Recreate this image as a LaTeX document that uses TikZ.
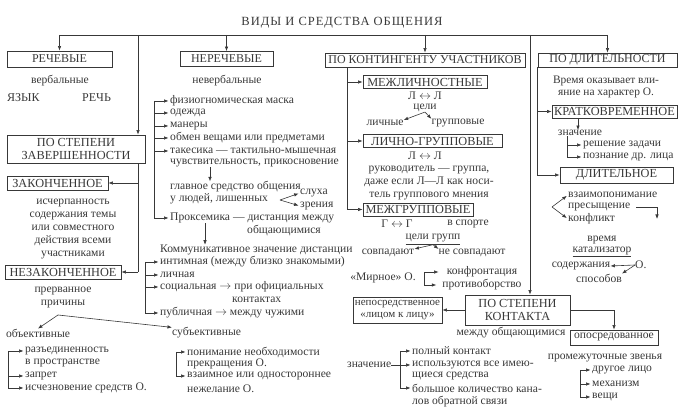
\documentclass[tikz,border=0pt]{standalone}
\usepackage{fontspec}
\setmainfont{Liberation Serif}
\usetikzlibrary{arrows.meta}
\definecolor{ink}{gray}{0.22}
\tikzset{
  txt/.style={inner sep=0pt, text=ink, font=\fontsize{11.6}{13}\selectfont},
  lt/.style={txt, anchor=west},
  box/.style={draw=ink, line width=0.9pt, inner sep=1pt, text=ink, font=\fontsize{12}{13}\selectfont},
  bigbox/.style={box, align=center, font=\fontsize{12.3}{13.5}\selectfont},
  ln/.style={draw=ink, line width=0.6pt},
  arr/.style={ln, -{Latex[length=4.5pt,width=3.5pt]}},
  larr/.style={arr, shorten >=1.5pt}
}
\begin{document}
\begin{tikzpicture}[x=1pt,y=-1pt]
    \useasboundingbox (0,0) rectangle (689,419);
    \node[txt, font=\fontsize{12.5}{14}\selectfont\addfontfeature{LetterSpace=8}] (title) at (342,23) {ВИДЫ И СРЕДСТВА ОБЩЕНИЯ};
    \coordinate (bar) at (0,35);
    \coordinate (zx) at (138,35);
    \coordinate (kx) at (530,35);

    \node[box, minimum width=105pt, minimum height=16pt] (rech) at (59.5,59) {РЕЧЕВЫЕ};
    \node[box, minimum width=93pt, minimum height=15pt] (nerech) at (226.5,59) {НЕРЕЧЕВЫЕ};
    \node[box, minimum width=200pt, minimum height=14pt] (kont) at (425,60) {ПО КОНТИНГЕНТУ УЧАСТНИКОВ};
    \node[box, minimum width=139pt, minimum height=14pt] (dlit) at (607.5,60) {ПО ДЛИТЕЛЬНОСТИ};
    \node[bigbox, minimum width=138pt, minimum height=28pt] (zav) at (76,149) {ПО СТЕПЕНИ\\ЗАВЕРШЕННОСТИ};
    \node[bigbox, minimum width=105pt, minimum height=30pt] (kontakt) at (517.5,310) {ПО СТЕПЕНИ\\КОНТАКТА};

    \draw[ln] (bar -| rech.north) -- (bar -| dlit.north);
    \draw[arr] (bar -| rech.north) -- (rech.north);
    \draw[arr] (bar -| nerech.north) -- (nerech.north);
    \draw[arr] (bar -| kont.north) -- (kont.north);
    \draw[arr] (bar -| dlit.north) -- (dlit.north);
    \draw[arr] (zx) -- (zx |- zav.north);
    \draw[arr] (kx) -- (kx |- kontakt.north);

    \node[txt] (verb) at (60,81) {вербальные};
    \node[lt, font=\fontsize{12}{13}\selectfont] (yaz) at (7,98) {ЯЗЫК};
    \node[lt, font=\fontsize{12}{13}\selectfont] (rch) at (82,98) {РЕЧЬ};

    \node[bigbox, minimum width=101pt, minimum height=14pt] (zak) at (57.5,183) {ЗАКОНЧЕННОЕ};
    \node[txt, align=center] (isch) at (73,229) {исчерпанность\\содержания темы\\или совместного\\действия всеми\\участниками};
    \node[bigbox, minimum width=116pt, minimum height=14pt] (nezak) at (63,272) {НЕЗАКОНЧЕННОЕ};
    \coordinate (zl) at (138,272);
    \draw[ln] (zav.south -| zl) -- (zl);
    \draw[arr] (zl |- zak.east) -- (zak.east);
    \draw[arr] (zl) -- (nezak.east);
    \node[txt, align=center] (prer) at (63,297.5) {прерванное\\причины};
    \coordinate (pr) at (58,315);
    \node[txt] (obj) at (38,333) {объективные};
    \node[lt] (subj) at (172,333) {субъективные};
    \draw[arr] (pr) -- (obj.north);
    \draw[arr] (pr) -- (subj.north west);

    \coordinate (ob) at (8,0);
    \node[lt] (o1) at (25,351) {разъединенность};
    \node[lt] (o1b) at (25,363) {в пространстве};
    \node[lt] (o2) at (25,376) {запрет};
    \node[lt] (o3) at (25,388) {исчезновение средств О.};
    \draw[larr] (ob |- o1.west) -- (o1.west);
    \draw[larr] (ob |- o1.west) |- (o3.west);
    \draw[larr] (ob |- o2.west) -- (o2.west);
    \coordinate (sb) at (176,0);
    \node[lt] (s1) at (187,352) {понимание необходимости};
    \node[lt] (s1b) at (187,364) {прекращения О.};
    \node[lt] (s2) at (187,376) {взаимное или одностороннее};
    \node[lt] (s2b) at (187,389) {нежелание О.};
    \draw[larr] (sb |- s1.west) -- (s1.west);
    \draw[larr] (sb |- s1.west) |- (s2.west);

    \node[txt] (nverb) at (227,81) {невербальные};
    \coordinate (nb) at (154,0);
    \node[lt] (n1) at (170,101) {физиогномическая маска};
    \node[lt] (n2) at (170,113) {одежда};
    \node[lt] (n3) at (170,126) {манеры};
    \node[lt] (n4) at (170,138) {обмен вещами или предметами};
    \node[lt] (n5) at (170,151) {такесика — тактильно-мышечная};
    \node[lt] (n5b) at (170,163) {чувствительность, прикосновение};
    \node[lt] (n6) at (170,187) {главное средство общения};
    \node[lt] (n6b) at (170,199) {у людей, лишенных};
    \node[lt] (sl) at (300,193) {слуха};
    \node[lt] (zr) at (300,206) {зрения};
    \node[lt] (n7) at (170,218) {Проксемика — дистанция между};
    \node[lt] (n7b) at (247,231) {общающимися};
    \draw[larr] (nb |- n1.west) -- (n1.west);
    \draw[larr] (nb |- n2.west) -- (n2.west);
    \draw[larr] (nb |- n3.west) -- (n3.west);
    \draw[larr] (nb |- n4.west) -- (n4.west);
    \draw[larr] (nb |- n5.west) -- (n5.west);
    \draw[larr] (nb |- n1.west) |- (n7.west);
    \coordinate (ga) at (210,0);
    \draw[arr] (ga |- n5b.south) -- (ga |- n6.north);
    \coordinate (fk) at (280,200);
    \draw[larr] (fk) -- (sl.west);
    \draw[larr] (fk) -- (zr.west);

    \node[lt] (n8) at (160,250) {Коммуникативное значение дистанции};
    \coordinate (pa) at (205,0);
    \draw[arr] (pa |- n7.south) -- (pa |- n8.north);
    \coordinate (db) at (145,0);
    \node[lt] (d1) at (160,262) {интимная (между близко знакомыми)};
    \node[lt] (d2) at (160,275) {личная};
    \node[lt] (d3) at (160,287) {социальная $\rightarrow$ при официальных};
    \node[lt] (d3b) at (232,300) {контактах};
    \node[lt] (d4) at (160,313) {публичная $\rightarrow$ между чужими};
    \draw[larr] (db |- d1.west) -- (d1.west);
    \draw[larr] (db |- d2.west) -- (d2.west);
    \draw[larr] (db |- d3.west) -- (d3.west);
    \draw[larr] (db |- d1.west) |- (d4.west);

    \node[bigbox, minimum width=124pt, minimum height=13pt] (mezhl) at (425,82) {МЕЖЛИЧНОСТНЫЕ};
    \node[bigbox, minimum width=139pt, minimum height=13pt] (lg) at (432.5,141) {ЛИЧНО-ГРУППОВЫЕ};
    \node[bigbox, minimum width=110pt, minimum height=13pt] (mezhg) at (418,209.5) {МЕЖГРУППОВЫЕ};
    \coordinate (kv) at (347,0);
    \draw[ln] (kv |- kont.south) -- (kv |- mezhg.west);
    \draw[arr] (kv |- mezhl.west) -- (mezhl.west);
    \draw[arr] (kv |- lg.west) -- (lg.west);
    \draw[arr] (kv |- mezhg.west) -- (mezhg.west);
    \node[txt] (ll1) at (425,96) {Л $\leftrightarrow$ Л};
    \node[txt] (celi) at (425,108) {цели};
    \node[txt] (lich) at (385,123) {личные};
    \node[txt] (grup) at (458,123) {групповые};
    \draw[arr] (celi.south) -- (lich.north east);
    \draw[arr] (celi.south) -- (grup.north west);
    \node[txt] (ll2) at (425,155.5) {Л $\leftrightarrow$ Л};
    \node[txt, align=center] (ruk) at (429,183.5) {руководитель — группа,\\даже если Л—Л как носи-\\тель группового мнения};
    \node[txt] (gg) at (397,224) {Г $\leftrightarrow$ Г};
    \node[txt] (sport) at (468,224) {в спорте};
    \node[txt] (cg) at (433,239.5) {\underline{цели групп}};
    \node[txt] (sovp) at (388,253) {совпадают};
    \node[txt] (nesovp) at (472,253) {не совпадают};
    \draw[arr] (cg.south) -- (sovp.north east);
    \draw[arr] (cg.south) -- (nesovp.north west);
    \node[txt] (mir) at (383,278) {«Мирное» О.};
    \node[txt] (konf) at (482,272) {конфронтация};
    \node[txt] (prot) at (482,285) {противоборство};
    \coordinate (mb) at (424,0);
    \draw[arr, shorten >=8pt] (mb |- konf.west) -- (konf.west);
    \draw[arr, shorten >=6pt] (mb |- konf.west) |- (prot.west);

    \node[txt, align=center, font=\fontsize{11.4}{12}\selectfont] (vrem) at (606,87) {Время оказывает вли-\\яние на характер О.};
    \node[bigbox, minimum width=125pt, minimum height=13pt] (kratk) at (614.5,111.5) {КРАТКОВРЕМЕННОЕ};
    \node[bigbox, minimum width=113pt, minimum height=16pt] (dl) at (616.5,175) {ДЛИТЕЛЬНОЕ};
    \coordinate (dv) at (537,0);
    \draw[ln] (dv |- dlit.south) -- (dv |- dl.west);
    \draw[arr] (dv |- kratk.west) -- (kratk.west);
    \draw[arr] (dv |- dl.west) -- (dl.west);
    \node[txt] (znach1) at (580,133) {значение};
    \coordinate (ka) at (578,0);
    \draw[arr] (ka |- kratk.south) -- (ka |- znach1.north);
    \coordinate (zb) at (567,0);
    \node[lt] (rz) at (583,145) {решение задачи};
    \node[lt] (pl) at (583,157) {познание др. лица};
    \draw[larr] (zb |- znach1.south) |- (rz.west);
    \draw[larr] (zb |- rz.west) |- (pl.west);
    \node[lt] (vz) at (568,195) {взаимопонимание};
    \node[lt] (pres) at (568,207) {пресыщение};
    \node[lt] (konfl) at (568,219) {конфликт};
    \coordinate (df) at (552,207);
    \draw[larr] (df) -- (vz.west);
    \draw[larr] (df) -- (konfl.west);
    \coordinate (pd) at (657,219);
    \draw[arr, shorten <=6pt] (pres.east) -| (pd);
    \node[txt] (vr) at (602,240) {время};
    \node[txt] (kat) at (602,252) {\underline{катализатор}};
    \node[txt] (sod) at (581,266) {содержания};
    \node[txt] (spos) at (599,278) {способов};
    \node[lt] (oo) at (635,265) {О.};
    \draw[arr] (oo.west) -- (sod.east);
    \draw[arr] (oo.west) -- (spos.north east);

    \node[box, align=center, font=\fontsize{11}{12}\selectfont, minimum width=89pt, minimum height=26pt] (neposr) at (397.5,310) {непосредственное\\«лицом к лицу»};
    \node[box, font=\fontsize{11.6}{13}\selectfont, minimum width=88pt, minimum height=15pt] (oposr) at (614,337.5) {опосредованное};
    \draw[arr] (kontakt.west) -- (neposr.east);
    \draw[arr] (kontakt.east) -| (oposr.north);
    \node[txt] (mo) at (511,333) {между общающимися};
    \node[lt] (zn2) at (347,365) {значение};
    \coordinate (cb) at (400,0);
    \node[lt] (c1) at (412,351) {полный контакт};
    \node[lt] (c2) at (412,365) {используются все имею-};
    \node[lt] (c2b) at (412,376) {щиеся средства};
    \node[lt] (c3) at (412,388) {большое количество кана-};
    \node[lt] (c3b) at (412,402) {лов обратной связи};
    \draw[larr] (zn2.east) -- (c2.west);
    \draw[larr] (cb |- c1.west) -- (c1.west);
    \draw[larr] (cb |- c1.west) |- (c3.west);
    \node[txt] (prom) at (605,358) {промежуточные звенья};
    \coordinate (pb) at (580,0);
    \node[lt] (dr) at (592,370) {другое лицо};
    \node[lt] (mex) at (592,384) {механизм};
    \node[lt] (ve) at (592,397) {вещи};
    \draw[larr] (pb |- dr.west) -- (dr.west);
    \draw[larr] (pb |- mex.west) -- (mex.west);
    \draw[larr] (pb |- dr.west) |- (ve.west);
\end{tikzpicture}
\end{document}
